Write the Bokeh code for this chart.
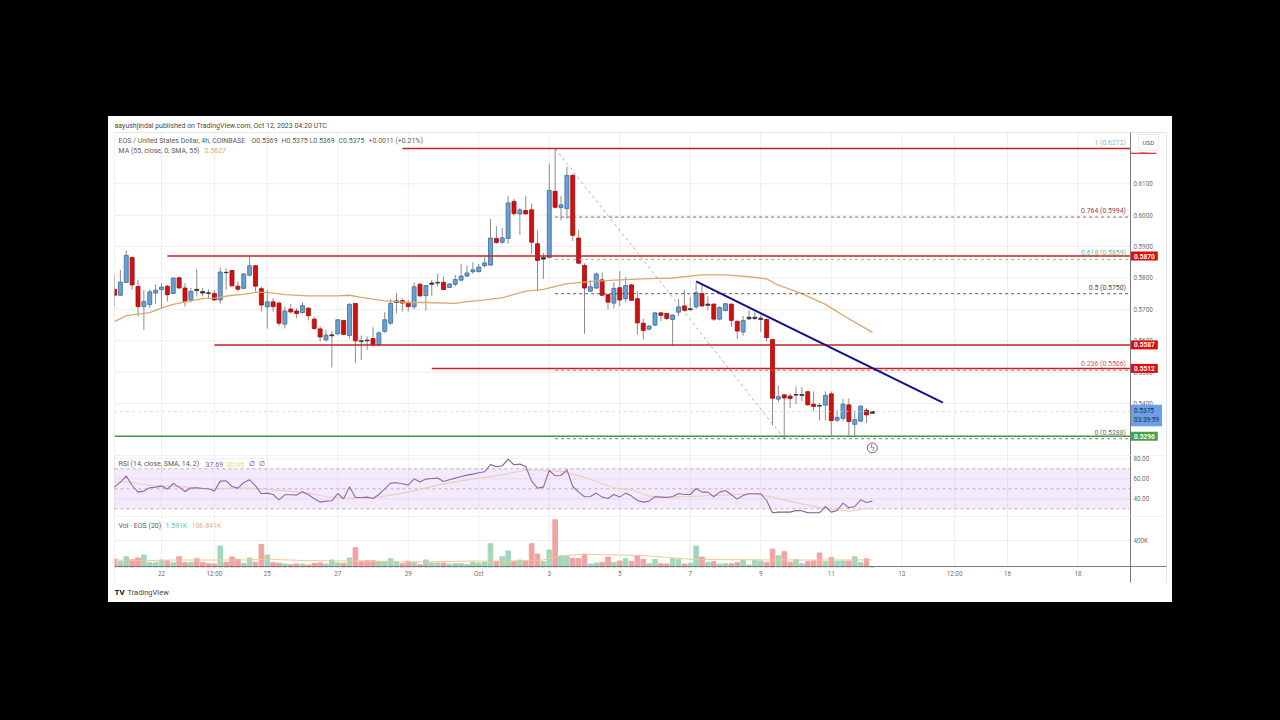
from bokeh.plotting import figure
from bokeh.layouts import column
from bokeh.models import ColumnDataSource, Range1d, FixedTicker, Label, BoxAnnotation, NumeralTickFormatter
from bokeh.embed import file_html
from bokeh.resources import INLINE

# ---------- data ----------
opens = [.5764,.5745,.5786,.5865,.5773,.5709,.5715,.5752,.5763,.5774,
 .5751,.5801,.5768,.5730,.5764,.5757,.5753,.5751,.5730,.5818,
 .5824,.5774,.5767,.5809,.5839,.5766,.5708,.5724,.5720,.5653,
 .5701,.5695,.5690,.5704,.5669,.5638,.5603,.5616,.5622,.5665,
 .5617,.5719,.5600,.5602,.5607,.5587,.5630,.5656,.5722,.5728,
 .5722,.5708,.5780,.5744,.5780,.5784,.5786,.5770,.5780,.5793,
 .5806,.5820,.5820,.5839,.5841,.5926,.5914,.5926,.6044,.6004,
 .6015,.6017,.5909,.5860,.5865,.6076,.6024,.6021,.6127,.5927,
 .5840,.5758,.5768,.5794,.5747,.5720,.5769,.5734,.5778,.5734,
 .5656,.5637,.5650,.5689,.5687,.5668,.5691,.5711,.5699,.5708,
 .5750,.5713,.5717,.5669,.5696,.5717,.5662,.5628,.5670,.5671,
 .5668,.5668,.5604,.5414,.5428,.5424,.5427,.5426,.5438,.5398,
 .5394,.5395,.5431,.5347,.5353,.5396,.5334,.5344,.5379,.5369]
closes = [.5745,.5787,.5872,.5778,.5709,.5725,.5756,.5761,.5771,.5747,
 .5800,.5768,.5725,.5757,.5760,.5752,.5751,.5730,.5819,.5817,
 .5775,.5764,.5813,.5839,.5774,.5714,.5724,.5709,.5656,.5695,
 .5692,.5687,.5712,.5680,.5639,.5612,.5618,.5619,.5667,.5620,
 .5716,.5600,.5598,.5600,.5587,.5625,.5667,.5719,.5727,.5720,
 .5709,.5772,.5743,.5776,.5784,.5786,.5763,.5781,.5795,.5806,
 .5816,.5826,.5835,.5848,.5927,.5913,.5928,.6039,.6005,.6017,
 .6004,.5914,.5856,.5865,.6079,.6025,.6033,.6127,.5936,.5847,
 .5768,.5772,.5813,.5745,.5723,.5767,.5730,.5776,.5729,.5657,
 .5633,.5647,.5689,.5681,.5671,.5682,.5708,.5696,.5702,.5753,
 .5711,.5717,.5669,.5706,.5718,.5665,.5631,.5665,.5675,.5675,
 .5672,.5610,.5417,.5422,.5418,.5416,.5429,.5429,.5396,.5391,
 .5392,.5426,.5346,.5356,.5398,.5343,.5349,.5392,.5364,.5375]
highs = [.5810,.5826,.5888,.5869,.5794,.5762,.5764,.5780,.5784,.5778,
 .5801,.5801,.5784,.5768,.5829,.5768,.5764,.5762,.5833,.5831,
 .5826,.5789,.5815,.5869,.5842,.5773,.5762,.5736,.5725,.5709,
 .5717,.5704,.5722,.5707,.5677,.5646,.5635,.5630,.5667,.5665,
 .5720,.5719,.5617,.5614,.5643,.5630,.5691,.5733,.5752,.5736,
 .5730,.5786,.5784,.5778,.5794,.5813,.5805,.5784,.5810,.5845,
 .5840,.5850,.5845,.5866,.5988,.5965,.5959,.6061,.6052,.6023,
 .6060,.6037,.5951,.5880,.6164,.6212,.6061,.6155,.6132,.5953,
 .5847,.5794,.5818,.5818,.5749,.5786,.5822,.5803,.5781,.5758,
 .5670,.5651,.5691,.5691,.5689,.5684,.5734,.5762,.5740,.5783,
 .5781,.5742,.5718,.5710,.5720,.5718,.5665,.5679,.5697,.5691,
 .5681,.5670,.5606,.5457,.5431,.5433,.5454,.5452,.5439,.5439,
 .5402,.5439,.5439,.5378,.5415,.5416,.5378,.5394,.5386,.5375]
lows = [.5709,.5745,.5784,.5762,.5677,.5635,.5704,.5718,.5704,.5725,
 .5749,.5767,.5709,.5723,.5741,.5741,.5733,.5728,.5718,.5762,
 .5773,.5757,.5764,.5805,.5757,.5693,.5639,.5693,.5648,.5639,
 .5686,.5672,.5686,.5665,.5635,.5598,.5598,.5515,.5619,.5620,
 .5608,.5529,.5539,.5571,.5582,.5582,.5625,.5651,.5688,.5693,
 .5693,.5700,.5741,.5696,.5743,.5773,.5762,.5768,.5773,.5790,
 .5803,.5813,.5818,.5834,.5840,.5909,.5909,.5909,.5999,.5938,
 .6003,.5877,.5758,.5797,.5863,.6021,.5984,.5989,.5918,.5845,
 .5622,.5755,.5765,.5743,.5700,.5704,.5710,.5723,.5728,.5620,
 .5604,.5633,.5647,.5663,.5665,.5583,.5679,.5694,.5697,.5702,
 .5708,.5697,.5663,.5665,.5694,.5644,.5606,.5616,.5665,.5665,
 .5628,.5599,.5330,.5404,.5288,.5386,.5399,.5407,.5394,.5376,
 .5346,.5346,.5298,.5341,.5344,.5298,.5298,.5342,.5338,.5369]
volumes = [121,81,157,111,137,182,66,66,106,91,
 66,157,66,71,126,66,51,46,319,71,
 152,116,56,137,71,344,182,66,56,46,
 35,46,46,30,56,61,46,106,61,56,
 137,293,91,96,96,86,76,126,76,51,
 86,71,35,106,61,61,61,46,51,51,
 35,71,61,71,354,86,157,243,86,106,
 86,354,197,81,258,718,162,162,132,126,
 197,46,61,71,152,71,91,126,86,167,
 116,51,116,51,46,126,111,46,56,319,
 152,71,81,46,51,51,66,106,30,101,
 91,71,273,172,233,71,111,51,81,91,
 213,81,142,86,91,91,157,66,126,2]
rsi = [51.7,56.7,62.7,53.3,46.7,47.7,51,51.7,52.7,49.7,
 55.3,51.7,47.3,50.7,51,50.3,50,47.7,57.7,58,
 52.3,50.7,56.3,59,53,45,45.7,44.3,39,44,
 44,43.7,47,44,40,36.7,37.7,38,45.3,40,
 52,41.3,41.3,41.7,40.3,44.3,50,55.7,56,55,
 53.7,60,56.7,59.7,60.3,60.7,57.3,59,60.7,62.3,
 63.7,64.7,66,67,74.3,72,73,79.7,74,74.7,
 72.3,57.7,50.7,51.7,68.3,63,63.3,69,52.3,46.7,
 42,42.3,45.7,41.7,40.3,44.3,41.7,45.7,42.7,38.3,
 36.7,37.7,42,41.7,41.3,42.3,45.3,44.3,44.3,50.3,
 46.7,46.7,42,46.7,48.3,44,39.7,43.3,45,45,
 45,38.3,26,26.7,26.7,26.7,28.3,28,26,26,
 26,32.3,26.7,28.3,35.7,31,32.3,39,36.3,37.7]

ma_bars = [0,2,6,8,10,12,15,17,20,22,24,26,29,33,38,40,42,46,50,53,58,60,62,66,70,73,77,82,86,91,95,100,104,108,111,113,117,121,125,129]
ma_vals = [.5661,.5680,.5690,.5704,.5716,.5724,.5734,.5736,.5745,.5748,.5754,.5754,.5747,.5743,.5743,.5745,.5738,.5727,.5722,.5722,.5719,.5725,.5728,.5737,.5758,.5764,.5782,.5790,.5794,.5798,.5800,.5810,.5810,.5804,.5797,.5777,.5750,.5716,.5670,.5627]
rsi_ma_bars = [0,2,6,10,16,22,27,32,36,39,44,50,56,61,66,70,72,76,80,83,85,88,91,95,102,109,112,117,121,125,129]
rsi_ma_vals = [56.7,57.3,53.3,52.7,50,51,49,46.7,42.3,41,40.7,46.7,55,60,64,69,68.3,67.7,61.7,55,51,49,42.7,41.7,43.3,45,41.7,35,30,27.7,30.65]
vol_ma_bars = [0,5,10,16,22,27,33,44,50,56,61,66,73,76,80,84,90,94,98,105,117,129]
vol_ma_vals = [106,96,106,106,106,116,96,86,76,81,91,86,106,172,192,187,172,147,116,111,106,107]

day_ticks = [22,23.5,25,27,29,31,33,35,37,39,41,43,44.5,46,48]
day_labels = ["22","12:00","25","27","29","Oct","3","5","7","9","11","13","12:00","16","18"]
price_ticks = [.61,.60,.59,.58,.57,.56,.55,.54]
rsi_ticks = [80,60,40]
rsi_levels = [70,50,30]
vol_ticks = [400]

# horizontal drawings: price, start bar
red_levels = [.6212,.5870,.5587,.5512]
red_start_bars = [49,9,17,54]
red_tags = ["0.5870","0.5587","0.5512"]
support_level = .5296
fib_levels = [.6212,.5994,.5859,.5750,.5506,.5288]
fib_names = ["1 (0.6212)","0.764 (0.5994)","0.618 (0.5859)","0.5 (0.5750)","0.236 (0.5506)","0 (0.5288)"]
fib_colors = ["#7fb8d6","#a33a55","#62c0a2","#4a4a4a","#c4607c","#6a6a6a"]
fib_start_bar = 75
fib_end_bar = 114
trend_bars = [99,141]
trend_prices = [.5789,.5403]
current_price = .5375

# ---------- geometry / helpers ----------
FIRST_DAY = 20.667
BARS_PER_DAY = 6
PANEL_L, PANEL_R = 20.4965, 50.681   # figure edges (whole white panel)
X0, X1 = 20.664, 49.486              # chart area
X_EDGE = 50.51                       # right border of the scale column
days = [FIRST_DAY + i / BARS_PER_DAY for i in range(len(opens))]
def day_of(i):
    return FIRST_DAY + i / BARS_PER_DAY

FONT = "Roboto"
GREY = "#6e6e6e"
GRID = "#eeeeee"
EDGE = "#e6e6e6"
BLUE, BLUE_E = "#6b9fd0", "#3c6c9c"
RED, RED_E = "#d30f0f", "#a00c0c"
VOL_G, VOL_R = "#a3d6bc", "#f0a3a3"
DASH = "3 3"
LEG = "#5a5a5a"
TOP = {}
HEIGHT = {}

def make_fig(fh, page_top, yr, area, xgrid_bottom, ticks):
    """fh: figure height; area: (bottom, top) of the chart area in y units."""
    f = figure(width=1064, height=fh, output_backend="svg", toolbar_location=None,
               x_range=Range1d(PANEL_L, PANEL_R), y_range=yr, y_axis_location="right",
               min_border_left=0, min_border_right=0, min_border_top=0, min_border_bottom=0,
               background_fill_color="white", border_fill_color="white", outline_line_color=None)
    TOP[f.id] = page_top
    HEIGHT[f.id] = fh
    f.xaxis.visible = False
    f.grid.visible = False
    # grid lines limited to the chart area
    f.segment(day_ticks, [xgrid_bottom] * len(day_ticks), day_ticks, [area[1]] * len(day_ticks),
              line_color=GRID, line_width=1, level="underlay")
    f.segment([X0] * len(ticks), ticks, [X1] * len(ticks), ticks,
              line_color=GRID, line_width=1, level="underlay")
    # pane outline, running across the scale column
    f.segment([X0, X0, X_EDGE], [area[1], area[0], area[0]], [X_EDGE, X0, X_EDGE], [area[1], area[1], area[1]],
              line_color=EDGE, line_width=1, level="underlay")
    ax = f.yaxis[0]
    ax.fixed_location = X1
    ax.bounds = area
    ax.ticker = FixedTicker(ticks=ticks)
    ax.axis_line_color = "#7a7a7a"
    ax.major_tick_line_color = None
    ax.minor_tick_line_color = None
    ax.major_tick_in = 0
    ax.major_tick_out = 0
    ax.major_label_text_color = GREY
    ax.major_label_text_font = FONT
    ax.major_label_text_font_size = "6.3px"
    ax.major_label_standoff = 3
    return f

def mask_left(f):
    f.add_layout(BoxAnnotation(left=PANEL_L, right=X0, fill_color="white", fill_alpha=1, line_color=None))

def text(f, px, py, s, color=GREY, size="7px", **kw):
    """px, py: position on the page; Label screen units are relative to the frame."""
    f.add_layout(Label(x=px - 108, y=HEIGHT[f.id] - (py - TOP[f.id]), x_units="screen", y_units="screen",
                       text=s, text_color=color, text_font=kw.pop("font", FONT), text_font_size=size,
                       text_baseline="middle", level="overlay", **kw))

def price_y(price):
    return 183.3 + (.61 - price) * 3140

# ---------- price pane ----------
p = make_fig(339, 116, Range1d(.52347, .63143), (.52347, .62634), .52347, price_ticks)
p.yaxis[0].formatter = NumeralTickFormatter(format="0.0000")

up = [c >= o for o, c in zip(opens, closes)]
doji = [abs(c - o) <= .0006 for o, c in zip(opens, closes)]
fills = ["#3a4a50" if d else (BLUE if u else RED) for u, d in zip(up, doji)]
edges = ["#2c2c2c" if d else (BLUE_E if u else RED_E) for u, d in zip(up, doji)]
src = ColumnDataSource(dict(x=days, o=opens, c=closes, h=highs, l=lows, fill=fills, edge=edges))
p.segment("x", "h", "x", "l", source=src, line_color="#8c8c8c", line_width=1)
p.vbar("x", width=0.68 / BARS_PER_DAY, top="o", bottom="c", source=src,
       fill_color="fill", line_color="edge", line_width=0.8)
mask_left(p)

p.line([day_of(i) for i in ma_bars], ma_vals, line_color="#dba86c", line_width=1.3)

# current price dotted guide
p.segment([X0], [current_price], [X1], [current_price], line_color="#bcd0e6", line_width=0.8, line_dash="dotted")

# Fibonacci retracement
for lvl, col in zip(fib_levels, fib_colors):
    p.segment([day_of(fib_start_bar)], [lvl], [X1], [lvl], line_color=col, line_width=0.9, line_dash=DASH)
p.line([day_of(fib_start_bar), day_of(fib_end_bar)], [fib_levels[0], fib_levels[-1]],
       line_color="#a8a8a8", line_width=0.9, line_dash=DASH)

# horizontal levels
for lvl, b in zip(red_levels, red_start_bars):
    p.segment([day_of(b)], [lvl], [X1], [lvl], line_color="#c92020", line_width=1.5)
p.segment([X0], [support_level], [X1], [support_level], line_color="#3f9a45", line_width=1.3)

# trend line
p.line([day_of(i) for i in trend_bars], trend_prices, line_color="#12128c", line_width=2)

# lightning marker
p.scatter([day_of(129)], [.5259], size=10, marker="circle", fill_color="white",
          line_color="#8a4fb0", line_width=1)
text(p, 872, 447.5, "\u03df", color="#8a4fb0", size="8px", font="DejaVu Sans", text_align="center")

# header texts
text(p, 114, 125, "aayushjindal published on TradingView.com, Oct 12, 2023 04:20 UTC", color="#4a4a4a", size="7px")
for hx, s in zip([118, 251, 281, 309, 338, 368],
                 ["EOS / United States Dollar, 4h, COINBASE", "O0.5369", "H0.5375", "L0.5369", "C0.5375", "+0.0011 (+0.21%)"]):
    text(p, hx, 140.5, s, color=LEG, size="6.95px")
text(p, 118, 150, "MA (55, close, 0, SMA, 55)", color=LEG, size="7px")
text(p, 204, 150, "0.5627", color="#dba86c", size="7px")

# fib labels (right aligned)
for lvl, name, col in zip(fib_levels, fib_names, fib_colors):
    text(p, 1125.5, price_y(lvl) - 6, name, color=col, size="6.9px", text_align="right")

# USD button and price tags
text(p, 1138, 142, "USD", color="#555555", size="6.2px", border_line_color="#ececec",
     padding=4, background_fill_color="white")
def tag(price, s, fill):
    text(p, 1130.5, price_y(price), s, color="white", size="6.6px", background_fill_color=fill,
         padding=(3, 2), text_font_style="bold")
text(p, 1130.5, 152.7, "0.6212", color="#cf0000", size="2.4px", background_fill_color="#cf0000", padding=(9, 0))
for s in red_tags:
    tag(float(s), s, "#e00d0d")
tag(.5296, "0.5296", "#45a349")
text(p, 1130.5, 415, "0.5375\n03:39:59", color="#12305c", size="6.5px", background_fill_color="#6d9fe6", padding=(3, 2))

# ---------- RSI pane ----------
r = make_fig(61, 455, Range1d(22.3, 83.3), (22.3, 83.3), 22.3, rsi_ticks)
r.yaxis[0].formatter = NumeralTickFormatter(format="0.00")
r.add_layout(BoxAnnotation(left=X0, right=X1, bottom=30, top=70, fill_color="#c9a3ef", fill_alpha=0.22, line_color=None))
r.segment([X0] * 3, rsi_levels, [X1] * 3, rsi_levels, line_color="#a89bb2", line_width=0.8, line_dash=DASH)
r.line([day_of(i) for i in rsi_ma_bars], rsi_ma_vals, line_color="#f3dcb4", line_width=1.2)
r.line(days, rsi, line_color="#7d5a9e", line_width=1.1)
text(r, 118, 463.5, "RSI (14, close, SMA, 14, 2)", color=LEG)
text(r, 205, 463.5, "37.69", color="#7d5a9e")
text(r, 226, 463.5, "30.65", color="#e6e05a")
text(r, 248, 463.5, "\u2205", color=LEG)
text(r, 258, 463.5, "\u2205", color=LEG)

# ---------- volume pane ----------
v = make_fig(86, 516, Range1d(-540, 768), (-236, 768), 0, vol_ticks)
v.yaxis[0].major_label_overrides = {400: "400K"}
vol_col = [VOL_G if u else VOL_R for u in up]
v.vbar(days, width=0.78 / BARS_PER_DAY, top=volumes, bottom=0, color=vol_col)
mask_left(v)
v.line([day_of(i) for i in vol_ma_bars], vol_ma_vals, line_color="#f0c896", line_width=1)
xa = v.xaxis[0]
xa.visible = True
xa.fixed_location = 0
xa.bounds = (X0, X_EDGE)
xa.ticker = FixedTicker(ticks=day_ticks)
xa.major_label_overrides = {t: s for t, s in zip(day_ticks, day_labels)}
xa.axis_line_color = "#7a7a7a"
xa.major_tick_line_color = None
xa.minor_tick_line_color = None
xa.major_tick_in = 0
xa.major_tick_out = 0
xa.major_label_text_color = GREY
xa.major_label_text_font = FONT
xa.major_label_text_font_size = "6.3px"
xa.major_label_standoff = 3
text(v, 118, 525, "Vol \u00b7 EOS (20)", color=LEG)
text(v, 165, 525, "1.591K", color="#62c0a2")
text(v, 191, 525, "106.841K", color="#f0b070")
text(v, 114, 592, "TV", color="#111111", size="8px", text_font_style="bold")
text(v, 127, 592, "TradingView", color="#444444", size="7.5px")

layout = column(p, r, v, spacing=0, margin=(116, 0, 0, 108), styles={"background-color": "white"})
html = file_html(layout, INLINE)
html = html.replace("<head>", "<head><style>html,body{background:#000;}</style>", 1)
open("out.html", "w").write(html)
